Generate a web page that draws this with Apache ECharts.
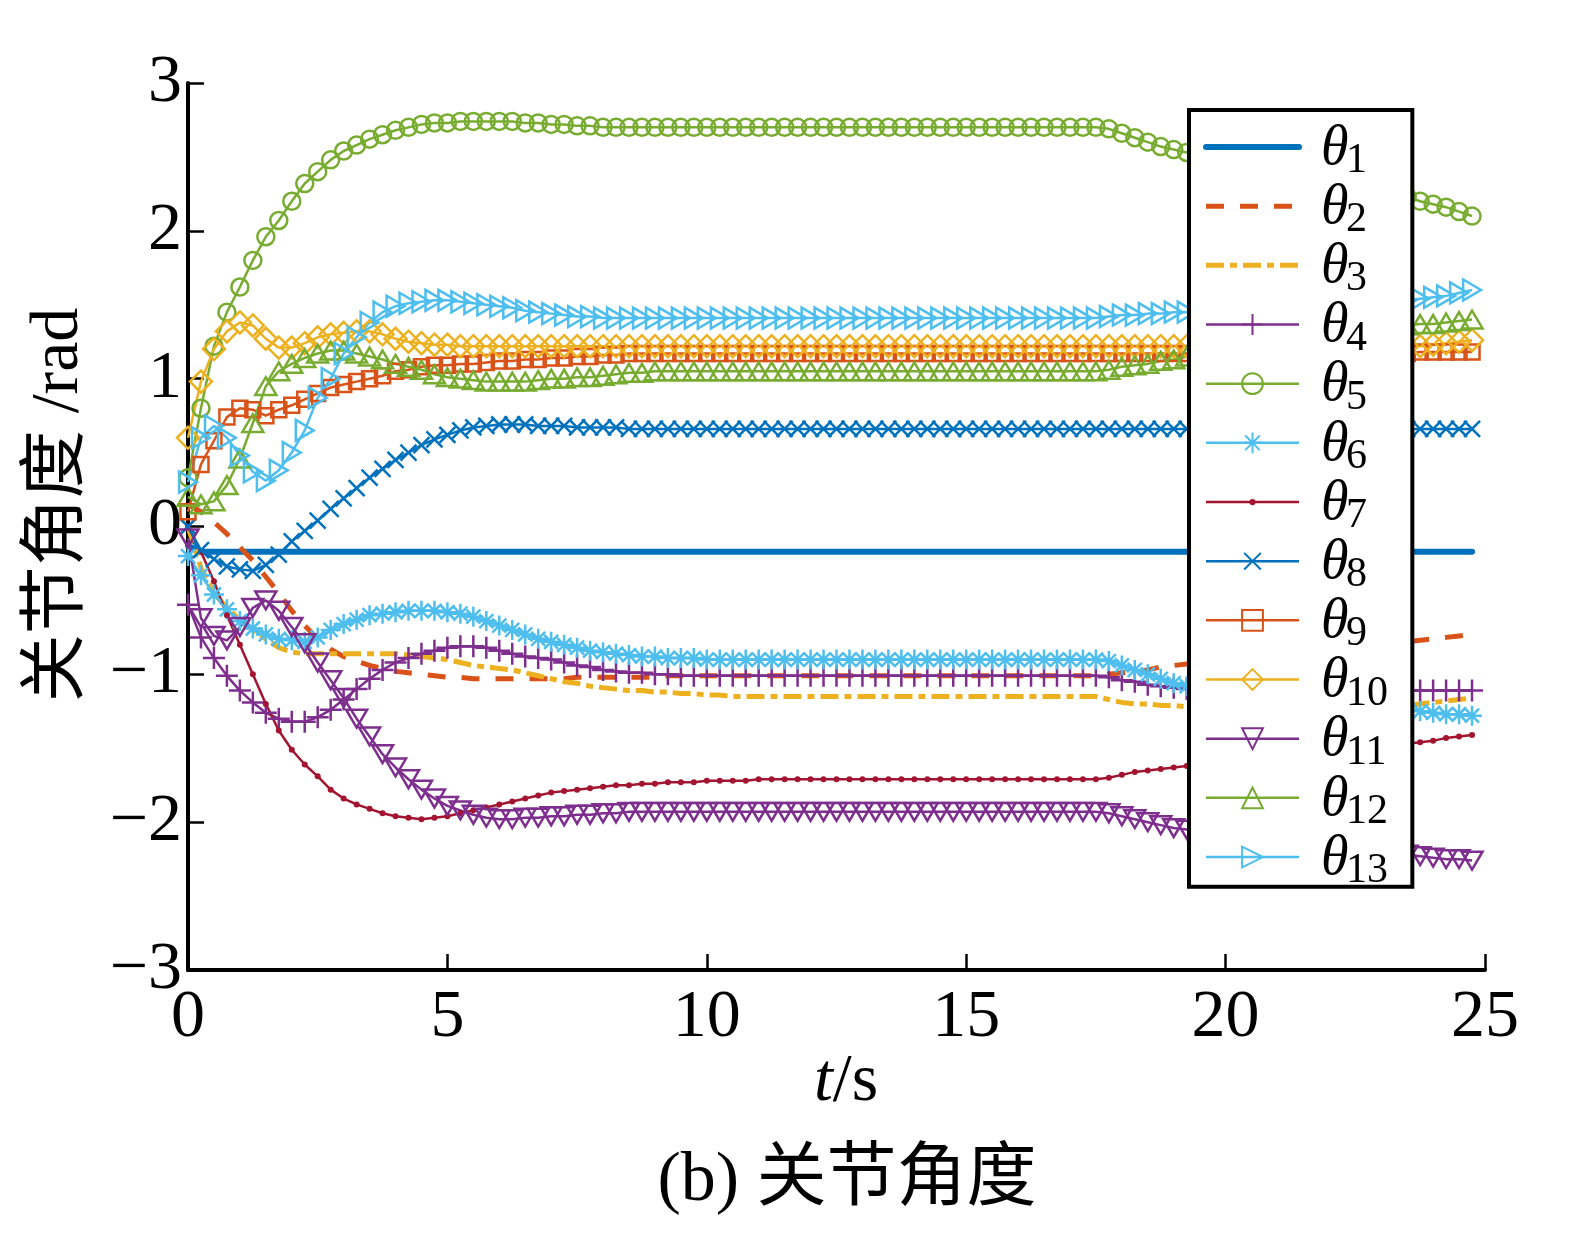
<!DOCTYPE html>
<html>
<head>
<meta charset="utf-8">
<title>关节角度</title>
<script src="https://cdn.jsdelivr.net/npm/echarts@6/dist/echarts.min.js"></script>
<style>
    html, body { margin: 0; padding: 0; background: #fff; overflow: hidden; }
    #chart { width: 100vw; height: 100vh; }
</style>
</head>
<body>
<div id="chart"></div>
<script>
// sample times (s)
const times = [
    0, 0.25, 0.5, 0.75, 1, 1.25, 1.5, 1.75, 2, 2.25, 2.5, 2.75, 3, 3.25, 3.5, 3.75, 4, 4.25, 4.5, 4.75,
    5, 5.25, 5.5, 5.75, 6, 6.25, 6.5, 6.75, 7, 7.25, 7.5, 7.75, 8, 8.25, 8.5, 8.75, 9, 9.25, 9.5, 9.75,
    10, 10.25, 10.5, 10.75, 11, 11.25, 11.5, 11.75, 12, 12.25, 12.5, 12.75, 13, 13.25, 13.5, 13.75, 14, 14.25, 14.5, 14.75,
    15, 15.25, 15.5, 15.75, 16, 16.25, 16.5, 16.75, 17, 17.25, 17.5, 17.75, 18, 18.25, 18.5, 18.75, 19, 19.25, 19.5, 19.75,
    20, 20.25, 20.5, 20.75, 21, 21.25, 21.5, 21.75, 22, 22.25, 22.5, 22.75, 23, 23.25, 23.5, 23.75, 24, 24.25, 24.5, 24.75
];

// joint angles (rad), one row = 5 s
const theta1 = [
    -0.13, -0.17, -0.17, -0.17, -0.17, -0.17, -0.17, -0.17, -0.17, -0.17, -0.17, -0.17, -0.17, -0.17, -0.17, -0.17, -0.17, -0.17, -0.17, -0.17,
    -0.17, -0.17, -0.17, -0.17, -0.17, -0.17, -0.17, -0.17, -0.17, -0.17, -0.17, -0.17, -0.17, -0.17, -0.17, -0.17, -0.17, -0.17, -0.17, -0.17,
    -0.17, -0.17, -0.17, -0.17, -0.17, -0.17, -0.17, -0.17, -0.17, -0.17, -0.17, -0.17, -0.17, -0.17, -0.17, -0.17, -0.17, -0.17, -0.17, -0.17,
    -0.17, -0.17, -0.17, -0.17, -0.17, -0.17, -0.17, -0.17, -0.17, -0.17, -0.17, -0.17, -0.17, -0.17, -0.17, -0.17, -0.17, -0.17, -0.17, -0.17,
    -0.17, -0.17, -0.17, -0.17, -0.17, -0.17, -0.17, -0.17, -0.17, -0.17, -0.17, -0.17, -0.17, -0.17, -0.17, -0.17, -0.17, -0.17, -0.17, -0.17
];
const theta2 = [
    0.15, 0.10, 0.03, -0.05, -0.14, -0.23, -0.34, -0.45, -0.57, -0.67, -0.76, -0.83, -0.88, -0.91, -0.94, -0.96, -0.98, -0.99, -1.00, -1.01,
    -1.02, -1.02, -1.03, -1.03, -1.03, -1.03, -1.03, -1.03, -1.03, -1.03, -1.02, -1.02, -1.02, -1.02, -1.02, -1.02, -1.02, -1.01, -1.01, -1.01,
    -1.01, -1.01, -1.01, -1.01, -1.01, -1.01, -1.01, -1.01, -1.01, -1.01, -1.01, -1.01, -1.01, -1.01, -1.01, -1.01, -1.01, -1.01, -1.01, -1.01,
    -1.01, -1.01, -1.01, -1.01, -1.01, -1.01, -1.01, -1.01, -1.01, -1.01, -1.01, -1.00, -0.99, -0.98, -0.97, -0.95, -0.94, -0.93, -0.92, -0.91,
    -0.90, -0.89, -0.88, -0.87, -0.86, -0.85, -0.84, -0.83, -0.82, -0.81, -0.80, -0.80, -0.79, -0.79, -0.78, -0.77, -0.76, -0.75, -0.74, -0.73
];
const theta3 = [
    0.00, -0.28, -0.45, -0.55, -0.63, -0.70, -0.76, -0.82, -0.85, -0.86, -0.86, -0.86, -0.86, -0.86, -0.86, -0.86, -0.86, -0.87, -0.88, -0.89,
    -0.90, -0.92, -0.94, -0.95, -0.96, -0.97, -0.99, -1.01, -1.03, -1.05, -1.06, -1.08, -1.09, -1.10, -1.11, -1.11, -1.12, -1.12, -1.13, -1.13,
    -1.14, -1.14, -1.15, -1.15, -1.15, -1.15, -1.15, -1.15, -1.15, -1.15, -1.15, -1.15, -1.15, -1.15, -1.15, -1.15, -1.15, -1.15, -1.15, -1.15,
    -1.15, -1.15, -1.15, -1.15, -1.15, -1.15, -1.15, -1.15, -1.15, -1.15, -1.15, -1.17, -1.19, -1.20, -1.20, -1.21, -1.21, -1.22, -1.22, -1.22,
    -1.22, -1.22, -1.22, -1.22, -1.22, -1.22, -1.22, -1.22, -1.22, -1.22, -1.21, -1.21, -1.21, -1.21, -1.21, -1.20, -1.19, -1.18, -1.17, -1.16
];
const theta4 = [
    -0.53, -0.75, -0.89, -1.01, -1.11, -1.19, -1.26, -1.30, -1.32, -1.32, -1.29, -1.24, -1.17, -1.10, -1.03, -0.97, -0.92, -0.89, -0.86, -0.84,
    -0.82, -0.81, -0.81, -0.82, -0.84, -0.86, -0.88, -0.89, -0.90, -0.92, -0.94, -0.95, -0.97, -0.98, -0.99, -0.99, -1.00, -1.00, -1.01, -1.01,
    -1.01, -1.01, -1.01, -1.01, -1.01, -1.01, -1.01, -1.01, -1.01, -1.01, -1.01, -1.01, -1.01, -1.01, -1.01, -1.01, -1.01, -1.01, -1.01, -1.01,
    -1.01, -1.01, -1.01, -1.01, -1.01, -1.01, -1.01, -1.01, -1.01, -1.01, -1.01, -1.02, -1.04, -1.05, -1.07, -1.08, -1.09, -1.10, -1.11, -1.11,
    -1.11, -1.11, -1.11, -1.11, -1.11, -1.11, -1.11, -1.11, -1.11, -1.11, -1.11, -1.11, -1.11, -1.11, -1.11, -1.11, -1.11, -1.11, -1.11, -1.11
];
const theta5 = [
    0.33, 0.80, 1.22, 1.45, 1.62, 1.80, 1.96, 2.07, 2.20, 2.32, 2.40, 2.48, 2.54, 2.58, 2.62, 2.65, 2.68, 2.70, 2.72, 2.73,
    2.73, 2.74, 2.74, 2.74, 2.74, 2.74, 2.73, 2.73, 2.72, 2.72, 2.71, 2.71, 2.70, 2.70, 2.70, 2.70, 2.70, 2.70, 2.70, 2.70,
    2.70, 2.70, 2.70, 2.70, 2.70, 2.70, 2.70, 2.70, 2.70, 2.70, 2.70, 2.70, 2.70, 2.70, 2.70, 2.70, 2.70, 2.70, 2.70, 2.70,
    2.70, 2.70, 2.70, 2.70, 2.70, 2.70, 2.70, 2.70, 2.70, 2.70, 2.70, 2.69, 2.66, 2.63, 2.60, 2.57, 2.55, 2.53, 2.51, 2.49,
    2.47, 2.45, 2.43, 2.41, 2.39, 2.37, 2.35, 2.34, 2.32, 2.31, 2.29, 2.28, 2.27, 2.25, 2.23, 2.20, 2.18, 2.16, 2.13, 2.10
];
const theta6 = [
    -0.20, -0.33, -0.46, -0.56, -0.64, -0.69, -0.73, -0.76, -0.77, -0.78, -0.75, -0.70, -0.66, -0.63, -0.60, -0.59, -0.58, -0.57, -0.57, -0.57,
    -0.58, -0.59, -0.61, -0.64, -0.67, -0.70, -0.73, -0.76, -0.78, -0.80, -0.82, -0.84, -0.85, -0.86, -0.87, -0.88, -0.88, -0.89, -0.89, -0.89,
    -0.90, -0.90, -0.90, -0.90, -0.90, -0.90, -0.90, -0.90, -0.90, -0.90, -0.90, -0.90, -0.90, -0.90, -0.90, -0.90, -0.90, -0.90, -0.90, -0.90,
    -0.90, -0.90, -0.90, -0.90, -0.90, -0.90, -0.90, -0.90, -0.90, -0.90, -0.90, -0.91, -0.94, -0.97, -1.00, -1.03, -1.06, -1.08, -1.10, -1.12,
    -1.13, -1.14, -1.15, -1.16, -1.17, -1.18, -1.19, -1.20, -1.20, -1.21, -1.22, -1.22, -1.23, -1.23, -1.24, -1.25, -1.26, -1.27, -1.27, -1.28
];
const theta7 = [
    0.00, -0.17, -0.37, -0.60, -0.80, -1.00, -1.20, -1.38, -1.51, -1.61, -1.69, -1.78, -1.84, -1.88, -1.91, -1.94, -1.96, -1.97, -1.98, -1.97,
    -1.96, -1.94, -1.92, -1.90, -1.88, -1.86, -1.84, -1.82, -1.80, -1.79, -1.78, -1.77, -1.76, -1.75, -1.75, -1.74, -1.74, -1.73, -1.73, -1.73,
    -1.72, -1.72, -1.72, -1.72, -1.71, -1.71, -1.71, -1.71, -1.71, -1.71, -1.71, -1.71, -1.71, -1.71, -1.71, -1.71, -1.71, -1.71, -1.71, -1.71,
    -1.71, -1.71, -1.71, -1.71, -1.71, -1.71, -1.71, -1.71, -1.71, -1.71, -1.71, -1.70, -1.68, -1.66, -1.65, -1.64, -1.63, -1.62, -1.61, -1.60,
    -1.59, -1.58, -1.57, -1.56, -1.56, -1.55, -1.54, -1.53, -1.52, -1.51, -1.50, -1.49, -1.48, -1.48, -1.47, -1.46, -1.45, -1.43, -1.42, -1.41
];
const theta8 = [
    0.00, -0.16, -0.22, -0.27, -0.29, -0.30, -0.26, -0.19, -0.10, -0.03, 0.04, 0.12, 0.19, 0.26, 0.33, 0.39, 0.45, 0.50, 0.55, 0.59,
    0.62, 0.65, 0.67, 0.68, 0.69, 0.69, 0.69, 0.68, 0.68, 0.68, 0.67, 0.67, 0.67, 0.67, 0.66, 0.66, 0.66, 0.66, 0.66, 0.66,
    0.66, 0.66, 0.66, 0.66, 0.66, 0.66, 0.66, 0.66, 0.66, 0.66, 0.66, 0.66, 0.66, 0.66, 0.66, 0.66, 0.66, 0.66, 0.66, 0.66,
    0.66, 0.66, 0.66, 0.66, 0.66, 0.66, 0.66, 0.66, 0.66, 0.66, 0.66, 0.66, 0.66, 0.66, 0.66, 0.66, 0.66, 0.66, 0.66, 0.66,
    0.66, 0.66, 0.66, 0.66, 0.66, 0.66, 0.66, 0.66, 0.66, 0.66, 0.66, 0.66, 0.66, 0.66, 0.66, 0.66, 0.66, 0.66, 0.66, 0.66
];
const theta9 = [
    0.10, 0.42, 0.58, 0.74, 0.80, 0.79, 0.75, 0.79, 0.82, 0.86, 0.90, 0.94, 0.96, 0.98, 1.00, 1.02, 1.05, 1.06, 1.08, 1.09,
    1.09, 1.10, 1.10, 1.11, 1.12, 1.12, 1.13, 1.13, 1.14, 1.14, 1.15, 1.15, 1.16, 1.16, 1.17, 1.17, 1.17, 1.17, 1.17, 1.17,
    1.17, 1.17, 1.17, 1.17, 1.17, 1.17, 1.17, 1.17, 1.17, 1.17, 1.17, 1.17, 1.17, 1.17, 1.17, 1.17, 1.17, 1.17, 1.17, 1.17,
    1.17, 1.17, 1.17, 1.17, 1.17, 1.17, 1.17, 1.17, 1.17, 1.17, 1.17, 1.17, 1.17, 1.17, 1.17, 1.17, 1.17, 1.17, 1.17, 1.17,
    1.17, 1.17, 1.17, 1.17, 1.17, 1.17, 1.17, 1.17, 1.17, 1.17, 1.17, 1.17, 1.17, 1.17, 1.17, 1.18, 1.18, 1.18, 1.18, 1.18
];
const theta10 = [
    0.60, 0.98, 1.20, 1.32, 1.38, 1.36, 1.27, 1.21, 1.21, 1.24, 1.28, 1.30, 1.31, 1.32, 1.32, 1.30, 1.27, 1.25, 1.24, 1.23,
    1.23, 1.22, 1.22, 1.22, 1.22, 1.22, 1.22, 1.22, 1.22, 1.22, 1.22, 1.22, 1.22, 1.22, 1.22, 1.22, 1.22, 1.22, 1.22, 1.22,
    1.22, 1.22, 1.22, 1.22, 1.22, 1.22, 1.22, 1.22, 1.22, 1.22, 1.22, 1.22, 1.22, 1.22, 1.22, 1.22, 1.22, 1.22, 1.22, 1.22,
    1.22, 1.22, 1.22, 1.22, 1.22, 1.22, 1.22, 1.22, 1.22, 1.22, 1.22, 1.22, 1.22, 1.22, 1.22, 1.22, 1.22, 1.22, 1.22, 1.22,
    1.22, 1.22, 1.22, 1.22, 1.22, 1.22, 1.22, 1.22, 1.22, 1.22, 1.22, 1.22, 1.22, 1.22, 1.22, 1.22, 1.23, 1.24, 1.25, 1.26
];
const theta11 = [
    -0.08, -0.62, -0.74, -0.77, -0.68, -0.55, -0.50, -0.57, -0.68, -0.79, -0.92, -1.04, -1.16, -1.30, -1.42, -1.54, -1.63, -1.71, -1.78, -1.84,
    -1.89, -1.92, -1.95, -1.97, -1.98, -1.98, -1.97, -1.97, -1.96, -1.96, -1.95, -1.95, -1.94, -1.94, -1.93, -1.93, -1.93, -1.93, -1.93, -1.93,
    -1.93, -1.93, -1.93, -1.93, -1.93, -1.93, -1.93, -1.93, -1.93, -1.93, -1.93, -1.93, -1.93, -1.93, -1.93, -1.93, -1.93, -1.93, -1.93, -1.93,
    -1.93, -1.93, -1.93, -1.93, -1.93, -1.93, -1.93, -1.93, -1.93, -1.93, -1.93, -1.94, -1.96, -1.98, -2.00, -2.02, -2.04, -2.05, -2.07, -2.08,
    -2.09, -2.10, -2.11, -2.12, -2.13, -2.14, -2.15, -2.16, -2.17, -2.18, -2.19, -2.19, -2.20, -2.21, -2.22, -2.23, -2.24, -2.25, -2.25, -2.26
];
const theta12 = [
    0.20, 0.15, 0.17, 0.28, 0.46, 0.70, 0.95, 1.05, 1.10, 1.14, 1.17, 1.19, 1.19, 1.17, 1.15, 1.13, 1.10, 1.08, 1.06, 1.03,
    1.01, 1.00, 0.99, 0.98, 0.98, 0.98, 0.98, 0.99, 1.00, 1.00, 1.01, 1.01, 1.02, 1.03, 1.04, 1.04, 1.05, 1.05, 1.05, 1.05,
    1.05, 1.05, 1.05, 1.05, 1.05, 1.05, 1.05, 1.05, 1.05, 1.05, 1.05, 1.05, 1.05, 1.05, 1.05, 1.05, 1.05, 1.05, 1.05, 1.05,
    1.05, 1.05, 1.05, 1.05, 1.05, 1.05, 1.05, 1.05, 1.05, 1.05, 1.05, 1.06, 1.08, 1.09, 1.10, 1.12, 1.13, 1.15, 1.17, 1.20,
    1.22, 1.25, 1.27, 1.29, 1.30, 1.31, 1.32, 1.33, 1.33, 1.34, 1.34, 1.35, 1.35, 1.36, 1.36, 1.37, 1.37, 1.38, 1.39, 1.40
];
const theta13 = [
    0.30, 0.60, 0.68, 0.60, 0.48, 0.37, 0.31, 0.38, 0.50, 0.65, 0.87, 1.00, 1.17, 1.28, 1.38, 1.45, 1.49, 1.51, 1.52, 1.53,
    1.53, 1.52, 1.51, 1.50, 1.49, 1.48, 1.46, 1.45, 1.44, 1.43, 1.42, 1.42, 1.41, 1.41, 1.41, 1.41, 1.41, 1.41, 1.41, 1.41,
    1.41, 1.41, 1.41, 1.41, 1.41, 1.41, 1.41, 1.41, 1.41, 1.41, 1.41, 1.41, 1.41, 1.41, 1.41, 1.41, 1.41, 1.41, 1.41, 1.41,
    1.41, 1.41, 1.41, 1.41, 1.41, 1.41, 1.41, 1.41, 1.41, 1.41, 1.41, 1.42, 1.43, 1.43, 1.44, 1.44, 1.45, 1.45, 1.46, 1.46,
    1.47, 1.47, 1.48, 1.48, 1.49, 1.49, 1.50, 1.50, 1.51, 1.51, 1.52, 1.52, 1.53, 1.53, 1.53, 1.54, 1.55, 1.56, 1.58, 1.60
];

const seriesNames = ['θ1', 'θ2', 'θ3', 'θ4', 'θ5', 'θ6', 'θ7', 'θ8', 'θ9', 'θ10', 'θ11', 'θ12', 'θ13'];
const seriesValues = [theta1, theta2, theta3, theta4, theta5, theta6, theta7, theta8, theta9, theta10, theta11, theta12, theta13];
const yTicks = [-3, -2, -1, 0, 1, 2, 3];

// layout is designed on a 1581x1236 page and scaled to the real viewport
const chartDom = document.getElementById('chart');
const SX = chartDom.clientWidth / 1581;
const SY = chartDom.clientHeight / 1236;
const SF = Math.min(SX, SY);
const px = v => v * SX;
const py = v => v * SY;
const pf = v => v * SF;

// MATLAB-like marker shapes
const SYM = {
    plus: 'path://M0,10H20M10,0V20',
    asterisk: 'path://M10,0V20M0,10H20M3,3L17,17M17,3L3,17',
    cross: 'path://M2,2L18,18M18,2L2,18M0,0M20,20',
    dot: 'path://M0,0M20,20M13,10A3,3,0,1,1,7,10A3,3,0,1,1,13,10Z',
    down: 'path://M0,0H20L10,17Z',
    up: 'path://M10,0L20,17H0Z',
    right: 'path://M0,0L17,10L0,20Z'
};

const SERIF = '"Liberation Serif", "Noto Sans CJK SC", serif';

const looks = [
    { color: '#0072BD', width: 6, symbol: 'none' },
    { color: '#D95319', width: 5, symbol: 'none', dash: [18, 16] },
    { color: '#EDB120', width: 5, symbol: 'none', dash: [18, 6, 7, 6] },
    { color: '#7E2F8E', width: 2.5, symbol: SYM.plus, size: 22 },
    { color: '#77AC30', width: 2.5, symbol: 'circle', size: 17 },
    { color: '#4DBEEE', width: 2.5, symbol: SYM.asterisk, size: 20 },
    { color: '#A2142F', width: 2.5, symbol: SYM.dot, size: 20, filled: true },
    { color: '#0072BD', width: 2.5, symbol: SYM.cross, size: 20 },
    { color: '#D95319', width: 2.5, symbol: 'rect', size: 15 },
    { color: '#EDB120', width: 2.5, symbol: 'diamond', size: 22 },
    { color: '#7E2F8E', width: 2.5, symbol: SYM.down, size: 21 },
    { color: '#77AC30', width: 2.5, symbol: SYM.up, size: 21 },
    { color: '#4DBEEE', width: 2.5, symbol: SYM.right, size: 21 }
];

const series = seriesNames.map((name, i) => {
    const lk = looks[i];
    const hasMarker = lk.symbol !== 'none';
    return {
        name: name,
        type: 'line',
        data: times.map((t, k) => [t, seriesValues[i][k]]),
        symbol: lk.symbol,
        symbolSize: pf(lk.size || 0),
        symbolKeepAspect: true,
        showSymbol: hasMarker,
        showAllSymbol: true,
        lineStyle: {
            color: lk.color,
            width: pf(lk.width),
            type: lk.dash ? lk.dash.map(pf) : 'solid',
            cap: i === 0 ? 'round' : 'butt'
        },
        itemStyle: lk.filled
            ? { color: lk.color, borderWidth: 0 }
            : { color: 'rgba(0,0,0,0)', borderColor: lk.color, borderWidth: hasMarker ? pf(2.5) : 0 },
        emphasis: { disabled: true }
    };
});

// legend box layout (design px)
const LEG_LEFT = 1189, LEG_TOP = 110, LEG_ROW = 59.17, LEG_FIRST = 147;
const legendLabels = [];
seriesNames.forEach((name, i) => {
    const cy = LEG_FIRST + i * LEG_ROW;
    legendLabels.push({
        type: 'text', z: 100, x: px(1321), y: py(cy + 2),
        style: { text: 'θ', fontFamily: SERIF, fontStyle: 'italic', fontSize: pf(56), fill: '#000', align: 'left', verticalAlign: 'middle' }
    });
    legendLabels.push({
        type: 'text', z: 100, x: px(1346), y: py(cy + 14),
        style: { text: name.slice(1), fontFamily: SERIF, fontSize: pf(42), fill: '#000', align: 'left', verticalAlign: 'middle' }
    });
});

const chart = echarts.init(chartDom);
const option = {
    animation: false,
    backgroundColor: '#fff',
    grid: { left: px(188), right: px(96), top: py(83), bottom: py(266), outerBoundsMode: 'none', containLabel: false },
    xAxis: {
        type: 'value',
        min: 0,
        max: 25,
        interval: 5,
        axisLine: { onZero: false, lineStyle: { color: '#000', width: pf(4) } },
        axisTick: { inside: true, length: py(16), lineStyle: { color: '#000', width: pf(2.5) } },
        axisLabel: { margin: py(14), fontFamily: SERIF, fontSize: pf(68), color: '#000' },
        splitLine: { show: false }
    },
    yAxis: {
        type: 'value',
        min: yTicks[0],
        max: yTicks[yTicks.length - 1],
        interval: 1,
        axisLine: { show: true, onZero: false, lineStyle: { color: '#000', width: pf(4) } },
        axisTick: { show: true, inside: true, length: px(16), lineStyle: { color: '#000', width: pf(2.5) } },
        axisLabel: {
            margin: px(6),
            fontFamily: SERIF,
            fontSize: pf(68),
            color: '#000',
            formatter: v => (v < 0 ? '\u2212' + Math.abs(v) : String(v))
        },
        splitLine: { show: false }
    },
    legend: {
        orient: 'vertical',
        left: px(LEG_LEFT),
        top: py(LEG_TOP),
        padding: [py(LEG_FIRST - LEG_TOP - LEG_ROW / 2), px(105), 0, px(14)],
        itemGap: 0,
        itemWidth: px(93),
        itemHeight: pf(26),
        selectedMode: false,
        backgroundColor: '#fff',
        borderColor: '#000',
        borderWidth: pf(4),
        data: seriesNames.map((n, i) => ({ name: n, lineStyle: { width: pf(looks[i].width) } })),
        formatter: () => ' ',
        textStyle: { color: '#000', fontSize: pf(12), lineHeight: py(LEG_ROW) }
    },
    graphic: [
        {
            type: 'text',
            x: px(59),
            y: py(505),
            rotation: Math.PI / 2,
            style: { text: '关节角度 /rad', fontFamily: SERIF, fontSize: pf(68), fill: '#000', align: 'center', verticalAlign: 'middle' }
        },
        {
            type: 'text',
            x: px(846),
            y: py(1082),
            style: {
                text: '{i|t}/s',
                fontFamily: SERIF,
                fontSize: pf(68),
                fill: '#000',
                align: 'center',
                verticalAlign: 'middle',
                rich: { i: { fontFamily: SERIF, fontStyle: 'italic', fontSize: pf(68), fill: '#000' } }
            }
        },
        {
            type: 'text',
            x: px(847),
            y: py(1182),
            style: { text: '(b) 关节角度', fontFamily: SERIF, fontSize: pf(70), fill: '#000', align: 'center', verticalAlign: 'middle' }
        }
    ].concat(legendLabels),
    series: series
};
chart.setOption(option);
window.addEventListener('resize', () => chart.resize());
</script>
</body>
</html>
